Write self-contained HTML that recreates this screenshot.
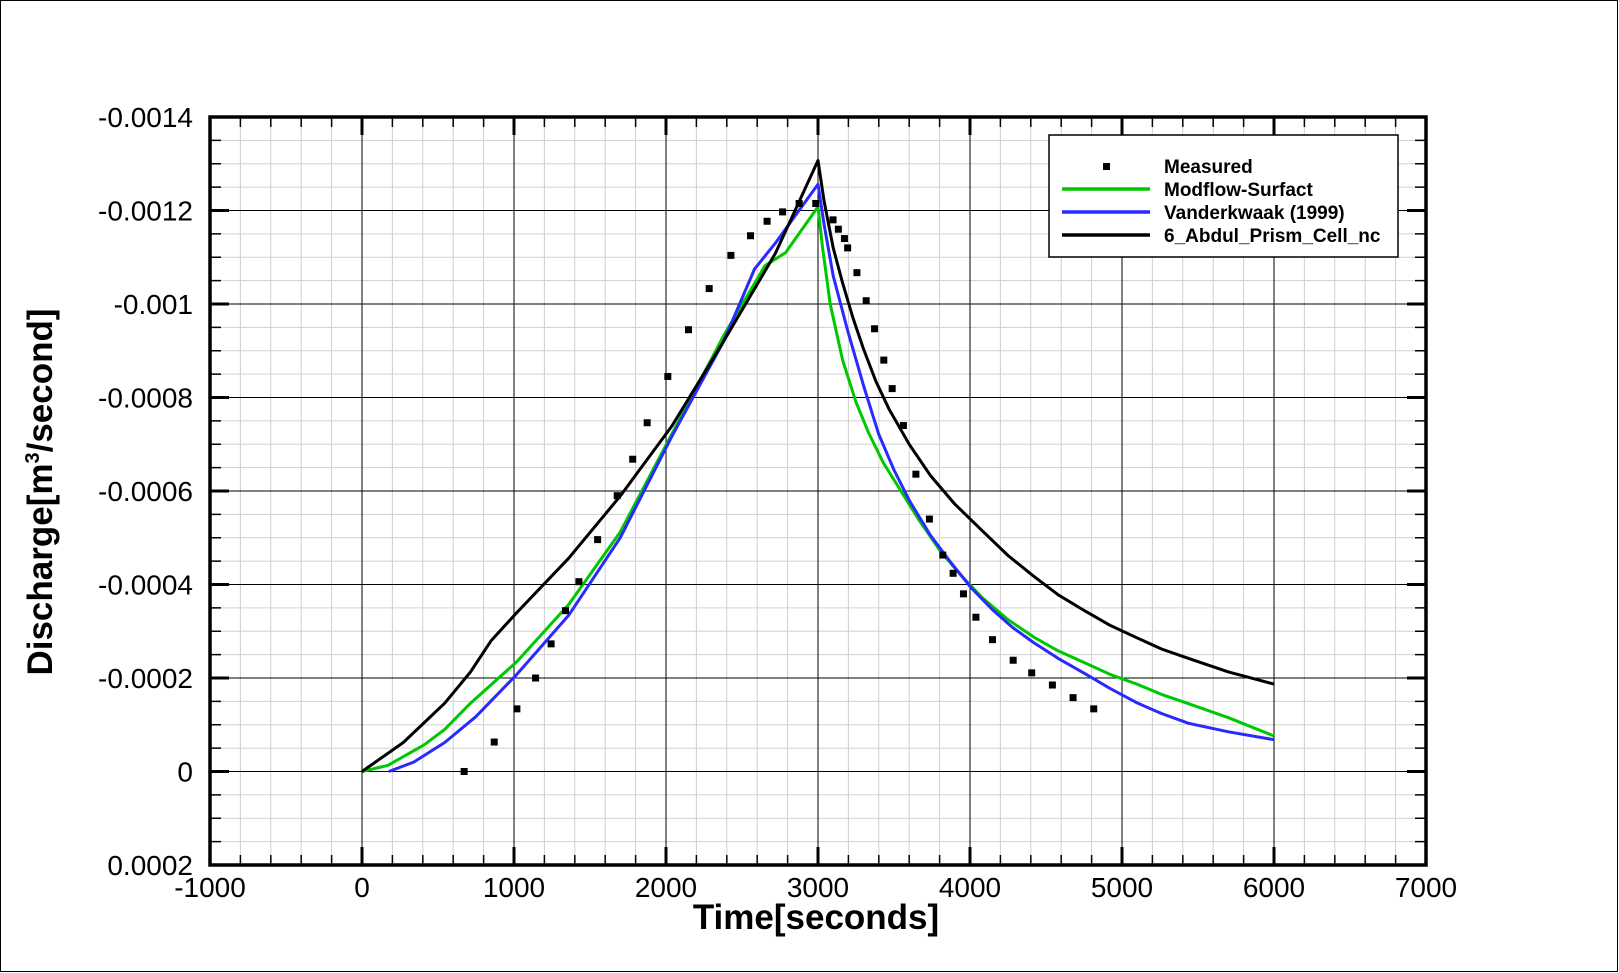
<!DOCTYPE html>
<html><head><meta charset="utf-8"><style>
html,body{margin:0;padding:0;background:#fff}
svg{display:block}
text{font-family:"Liberation Sans",Arial,sans-serif}
</style></head><body>
<svg id="chart" width="1619" height="973" xmlns="http://www.w3.org/2000/svg">
<rect x="0.5" y="0.5" width="1617" height="971" fill="#fff" stroke="#000" stroke-width="1"/>
<g id="grid"></g>
<g id="series"></g>
<g id="axes"></g>
<text x="816" y="929" text-anchor="middle" font-size="35" font-weight="bold">Time[seconds]</text>
<text transform="translate(52,492) rotate(-90)" text-anchor="middle" font-size="35" font-weight="bold">Discharge[m<tspan font-size="20" dy="-13">3</tspan><tspan dy="13">/second]</tspan></text>
<g>
<rect x="1049" y="135" width="349" height="122" fill="#fff" stroke="#000" stroke-width="1.5"/>
<rect x="1103" y="163" width="7" height="7" fill="#000"/>
<text x="1164" y="173" font-size="19" font-weight="bold">Measured</text>
<line x1="1062" y1="189" x2="1150" y2="189" stroke="#00c800" stroke-width="3.5"/>
<text x="1164" y="196" font-size="19" font-weight="bold">Modflow-Surfact</text>
<line x1="1062" y1="212" x2="1150" y2="212" stroke="#2a2aff" stroke-width="3.5"/>
<text x="1164" y="219" font-size="19" font-weight="bold">Vanderkwaak (1999)</text>
<line x1="1062" y1="235" x2="1150" y2="235" stroke="#000" stroke-width="3.5"/>
<text x="1164" y="242" font-size="19" font-weight="bold">6_Abdul_Prism_Cell_nc</text>
</g>
</svg>
<script>
const xTicks=[-1000,0,1000,2000,3000,4000,5000,6000,7000];
const yTicks=[-0.0014,-0.0012,-0.001,-0.0008,-0.0006,-0.0004,-0.0002,0,0.0002];
const yTickLabels=["-0.0014","-0.0012","-0.001","-0.0008","-0.0006","-0.0004","-0.0002","0","0.0002"];
const measT=[672,870,1019,1142,1244,1339,1427,1550,1679,1781,1876,2012,2148,2284,2427,2556,2665,2767,2876,2985,3099,3134,3174,3195,3256,3317,3372,3433,3488,3562,3644,3733,3821,3889,3957,4039,4148,4284,4406,4542,4678,4814];
const measQ=[0,-0.000063,-0.000134,-0.0002,-0.000273,-0.000344,-0.000406,-0.000496,-0.00059,-0.000668,-0.000746,-0.000845,-0.000945,-0.001033,-0.001104,-0.001146,-0.001177,-0.001197,-0.001215,-0.001215,-0.00118,-0.00116,-0.00114,-0.00112,-0.001067,-0.001007,-0.000947,-0.00088,-0.000819,-0.00074,-0.000636,-0.00054,-0.000463,-0.000424,-0.00038,-0.00033,-0.000282,-0.000238,-0.000211,-0.000185,-0.000158,-0.000134];
const abdulT=[0,272,544,714,850,1019,1359,1699,2039,2379,2719,3000,3040,3100,3162,3230,3298,3380,3468,3600,3740,3900,4080,4250,4418,4580,4758,4920,5098,5260,5438,5700,6000];
const abdulQ=[0,-0.000062,-0.000146,-0.000213,-0.00028,-0.00034,-0.000456,-0.000589,-0.000739,-0.00092,-0.001108,-0.001307,-0.00122,-0.00112,-0.001045,-0.00097,-0.000905,-0.000835,-0.000775,-0.0007,-0.000633,-0.000572,-0.000515,-0.000462,-0.000418,-0.000378,-0.000343,-0.000313,-0.000286,-0.000262,-0.000242,-0.000213,-0.000187];
const modT=[0,170,408,544,714,1019,1359,1699,2039,2379,2651,2787,3000,3030,3080,3162,3250,3332,3430,3536,3660,3808,3940,4080,4250,4418,4580,4758,4920,5098,5260,5438,5700,6000];
const modQ=[0,-0.000013,-0.000057,-0.00009,-0.000146,-0.000235,-0.000357,-0.000512,-0.000722,-0.000932,-0.001082,-0.00111,-0.001208,-0.00112,-0.001,-0.00088,-0.00079,-0.000725,-0.00066,-0.000605,-0.00054,-0.00047,-0.00042,-0.000372,-0.000325,-0.000288,-0.000258,-0.000232,-0.000208,-0.000187,-0.000165,-0.000145,-0.000115,-0.000076];
const vanT=[177,340,544,748,1019,1359,1699,2039,2379,2583,2719,3000,3040,3100,3196,3300,3400,3500,3604,3740,3876,4010,4148,4280,4418,4580,4758,4920,5098,5260,5438,5700,6000];
const vanQ=[0,-0.00002,-0.000062,-0.000117,-0.000208,-0.000334,-0.0005,-0.000717,-0.00092,-0.001075,-0.00113,-0.001256,-0.00117,-0.00106,-0.000942,-0.000825,-0.000721,-0.000645,-0.000578,-0.000505,-0.000446,-0.000392,-0.000346,-0.000308,-0.000276,-0.000242,-0.000209,-0.000178,-0.000147,-0.000124,-0.000103,-0.000085,-0.000068];

const L=210,R=1426,T=117,B=865;
const X=v=>L+(v+1000)/8000*(R-L);
const Y=v=>T+(v+0.0014)/0.0016*(B-T);
const NS="http://www.w3.org/2000/svg";
function mk(tag,parent,attrs){const e=document.createElementNS(NS,tag);for(const k in attrs)e.setAttribute(k,attrs[k]);parent.appendChild(e);return e;}
const grid=document.getElementById('grid'),axes=document.getElementById('axes'),series=document.getElementById('series');
for(let v=-1000;v<=7000;v+=200){const x=X(v);
 const g=mk('line',grid,{x1:x,x2:x,y1:T,y2:B,stroke:'#d0d0d0','stroke-width':1});
 
 }
for(let i=0;i<=32;i++){const y=Y(-0.0014+i*0.00005);
 const g=mk('line',grid,{x1:L,x2:R,y1:y,y2:y,stroke:'#d0d0d0','stroke-width':1});
 
 }
xTicks.forEach(v=>{const x=X(v);
 const g=mk('line',grid,{x1:x,x2:x,y1:T,y2:B,stroke:'#000','stroke-width':1});
 
 
 const t=mk('text',axes,{x:x,y:B+32,'text-anchor':'middle','font-size':28});t.textContent=v;
 
 
 [[B,B-18],[T,T+18]].forEach(p=>{const k=mk('line',axes,{x1:x,x2:x,y1:p[0],y2:p[1],stroke:'#000','stroke-width':3});
 
 });
});
for(let v=-1000;v<=7000;v+=200){if(v%1000===0)continue;const x=X(v);
 [[B,B-10],[T,T+10]].forEach(p=>{const k=mk('line',axes,{x1:x,x2:x,y1:p[0],y2:p[1],stroke:'#000','stroke-width':1.5});
 
 });}
yTicks.forEach((v,i)=>{const y=Y(v);
 const g=mk('line',grid,{x1:L,x2:R,y1:y,y2:y,stroke:'#000','stroke-width':1});
 
 
 const t=mk('text',axes,{x:193,y:y+10,'text-anchor':'end','font-size':28});t.textContent=yTickLabels[i];
 
 
 [[L,L+19],[R,R-19]].forEach(p=>{const k=mk('line',axes,{x1:p[0],x2:p[1],y1:y,y2:y,stroke:'#000','stroke-width':3});
 
 });
});
for(let i=0;i<=32;i++){if(i%4===0)continue;const y=Y(-0.0014+i*0.00005);
 [[L,L+11],[R,R-11]].forEach(p=>{const k=mk('line',axes,{x1:p[0],x2:p[1],y1:y,y2:y,stroke:'#000','stroke-width':1.5});
 
 });}
const frame=mk('rect',axes,{x:L,y:T,width:R-L,height:B-T,fill:'none',stroke:'#000','stroke-width':3.5});


function line(ts,qs,color,name){const d=ts.map((t,i)=>(i?'L':'M')+X(t).toFixed(1)+','+Y(qs[i]).toFixed(1)).join('');
 const p=mk('path',series,{d:d,fill:'none',stroke:color,'stroke-width':3,'stroke-linejoin':'round'});
 
 }
line(modT,modQ,'#00c800','modflow-line');
line(vanT,vanQ,'#2a2aff','vanderkwaak-line');
line(abdulT,abdulQ,'#000','abdul-prism-line');
measT.forEach((t,i)=>{const r=mk('rect',series,{x:X(t)-3.5,y:Y(measQ[i])-3.5,width:7,height:7,fill:'#000'});
 
 });
</script>
</body></html>
